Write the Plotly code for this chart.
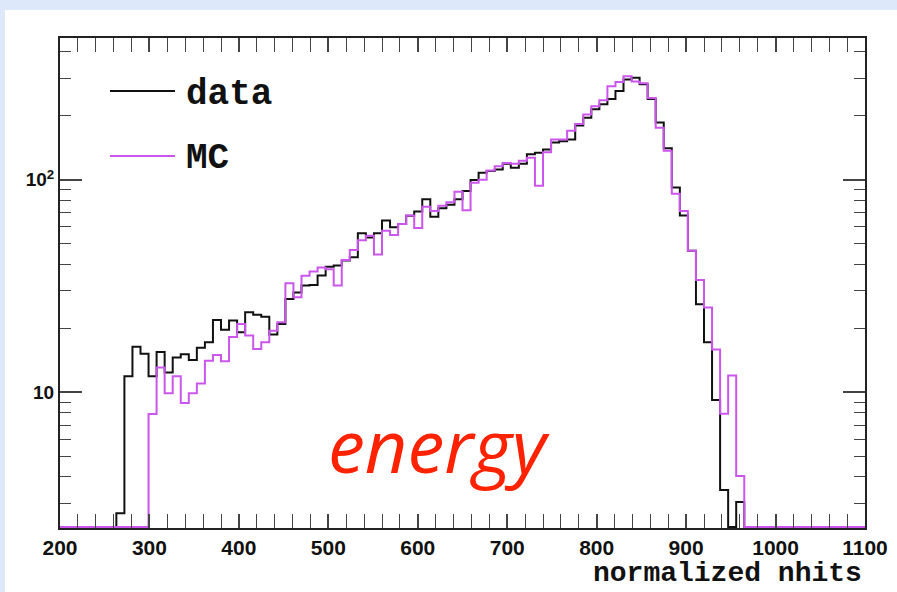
import numpy as np
import plotly.graph_objects as go

# ---- data: 100 bins of width 9 from 200 to 1100 ----
bin_lo = 200.0
bin_width = 9.0
n_bins = 100

data_counts = [0, 0, 0, 0, 0, 0, 0, 2.7, 11.9, 16.4,
               15.2, 11.9, 15.5, 12.4, 14.6, 15.1, 14.2, 16.2, 17.2, 21.9,
               19.7, 21.8, 19.2, 23.8, 23.2, 22.7, 18.7, 21.0, 27.5, 29.5,
               31.8, 32.0, 35.5, 39.0, 39.5, 41.7, 43.2, 56.0, 53.6, 56.0,
               64.3, 59.8, 62.0, 67.8, 71.0, 81.0, 67.0, 73.6, 76.3, 81.0,
               88.7, 99.7, 108, 110, 112, 119, 114, 119, 132, 134,
               139, 150, 152, 155, 180, 196, 215, 227, 240, 262,
               297, 302, 282, 240, 186, 141, 92, 68, 46.4, 26.0,
               17.2, 9.2, 3.47, 0, 3.05, 0, 0, 0, 0, 0,
               0, 0, 0, 0, 0, 0, 0, 0, 0, 0]

mc_counts = [0, 0, 0, 0, 0, 0, 0, 0, 0, 0,
             0, 7.9, 13.1, 9.9, 11.9, 8.9, 9.9, 11.0, 14.1, 15.0,
             14.0, 18.2, 21.0, 18.5, 16.0, 17.2, 19.5, 21.4, 32.6, 28.0,
             35.4, 37.0, 38.7, 38.0, 31.8, 42.0, 46.8, 52.0, 54.6, 44.5,
             57.6, 55.0, 62.0, 68.0, 59.3, 74.7, 71.4, 75.5, 78.4, 88.0,
             72.0, 97.0, 100, 110.6, 116, 120, 119, 123, 127, 93.7,
             135, 155, 155, 170, 183, 203, 222, 237, 276, 289,
             307, 290, 285, 243, 176, 137, 86, 71.4, 46.4, 33.8,
             25.1, 15.9, 7.94, 12.0, 4.04, 0, 0, 0, 0, 0,
             0, 0, 0, 0, 0, 0, 0, 0, 0, 0]

x_tick_vals = [200, 300, 400, 500, 600, 700, 800, 900, 1000, 1100]
y_tick_vals = [10, 100]
y_tick_text = ["10", "10<sup>2</sup>"]
y_minor_vals = [3, 4, 5, 6, 7, 8, 9, 20, 30, 40, 50, 60, 70, 80, 90, 200, 300, 400]

y_min, y_max = 2.3, 465.0

edges = bin_lo + bin_width * np.arange(n_bins + 1)


def step_xy(counts):
    c = np.maximum(np.asarray(counts, dtype=float), y_min * 1.01)  # empty bins sit on the axis floor
    xs = np.concatenate([edges[:-1], [edges[-1]]])
    ys = np.concatenate([c, [c[-1]]])
    return xs, ys


fig = go.Figure()
xd, yd = step_xy(data_counts)
xm, ym = step_xy(mc_counts)
fig.add_trace(go.Scatter(x=xd, y=yd, mode="lines", line=dict(color="#111111", width=2, shape="hv"),
                         name="data", showlegend=False))
fig.add_trace(go.Scatter(x=xm, y=ym, mode="lines", line=dict(color="#cc55ee", width=2, shape="hv"),
                         name="MC", showlegend=False))

tick_font_x = dict(family="Liberation Sans", size=21, color="#111111", weight="bold")
tick_font_y = dict(family="Liberation Sans", size=19, color="#111111", weight="bold")
yr = [np.log10(y_min), np.log10(y_max)]

fig.update_layout(
    xaxis=dict(range=[200, 1100], showline=True, linecolor="#222222", linewidth=2, mirror="allticks",
               ticks="inside", ticklen=14, tickwidth=1.5, tickcolor="#444444",
               tickmode="array", tickvals=x_tick_vals, tickfont=tick_font_x,
               minor=dict(ticks="inside", ticklen=6, dtick=20, tickcolor="#444444", tickwidth=1.2,
                          showgrid=False),
               showgrid=False, zeroline=False),
    # minor (short) ticks of the log axis
    yaxis=dict(type="log", range=yr, showline=True, linecolor="#222222", linewidth=2, mirror="allticks",
               ticks="inside", ticklen=11, tickwidth=1.2, tickcolor="#444444",
               tickmode="array", tickvals=y_minor_vals, showticklabels=False,
               showgrid=False, zeroline=False),
    # major (long) ticks with labels
    yaxis2=dict(type="log", range=yr, overlaying="y", anchor="x", side="left", showline=True,
                linecolor="#222222", linewidth=2, mirror="allticks", ticks="inside", ticklen=22,
                tickwidth=1.5, tickcolor="#444444", tickmode="array", tickvals=y_tick_vals,
                ticktext=y_tick_text, tickfont=tick_font_y, showgrid=False, zeroline=False),
)
# invisible trace to activate yaxis2
fig.add_trace(go.Scatter(x=[None], y=[None], yaxis="y2", showlegend=False, hoverinfo="skip"))

L, R, T, B = 60, 32, 38, 64
W, H = 897, 592
pw, ph = W - L - R, H - T - B


def px(xp):
    return (xp - L) / pw


def py(yp):
    return (H - B - yp) / ph


shapes = [
    dict(type="rect", xref="paper", yref="paper", x0=px(5), x1=px(W + 20), y0=py(H + 20), y1=py(10),
         fillcolor="white", line=dict(width=0), layer="below"),
    dict(type="line", xref="paper", yref="paper", x0=px(110), x1=px(175), y0=py(91), y1=py(91),
         line=dict(color="#111111", width=2)),
    dict(type="line", xref="paper", yref="paper", x0=px(110), x1=px(175), y0=py(156), y1=py(156),
         line=dict(color="#cc55ee", width=2)),
]

annotations = [
    dict(text="data", xref="paper", yref="paper", x=px(184), y=py(95), xanchor="left", yanchor="middle",
         showarrow=False, font=dict(family="Liberation Mono", size=36, color="#111111", weight="bold")),
    dict(text="MC", xref="paper", yref="paper", x=px(184), y=py(158), xanchor="left", yanchor="middle",
         showarrow=False, font=dict(family="Liberation Mono", size=36, color="#111111", weight="bold")),
    dict(text="<i>energy</i>", xref="paper", yref="paper", x=px(439), y=py(444), xanchor="center",
         yanchor="middle", showarrow=False, font=dict(family="Open Sans", size=74, color="#ff2200")),
    dict(text="normalized nhits", xref="paper", yref="paper", x=px(864), y=py(573), xanchor="right",
         yanchor="middle", showarrow=False,
         font=dict(family="Liberation Mono", size=28, color="#111111", weight="bold")),
]

fig.update_layout(width=W, height=H, margin=dict(l=L, r=R, t=T, b=B, autoexpand=False),
                  paper_bgcolor="#dde8fa", plot_bgcolor="white", shapes=shapes, annotations=annotations,
                  showlegend=False)

fig.write_html("out.html")
